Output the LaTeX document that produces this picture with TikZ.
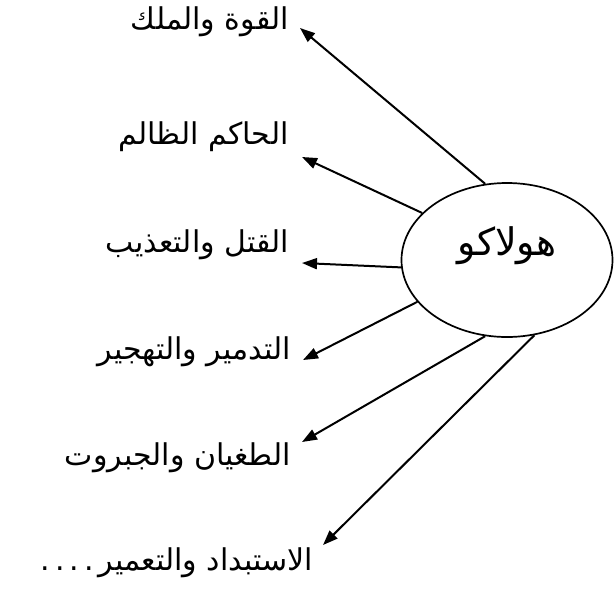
\documentclass[tikz,border=0pt]{standalone}
\usepackage{fontspec}
\usetikzlibrary{shapes.geometric,arrows.meta}
\TeXXeTstate=1
\newfontfamily\arabicfont[Script=Arabic]{DejaVu Sans}
\begin{document}
\begin{tikzpicture}[x=1pt,y=-1pt,
  lab/.style={anchor=east,inner sep=0pt,font=\arabicfont\fontsize{30}{36}\selectfont},
  arr/.style={line width=2pt,-{Triangle[length=15pt,width=11pt]}}]
\useasboundingbox (0,0) rectangle (614,590);
\node[draw,line width=1.7pt,ellipse,minimum width=211pt,minimum height=154pt,inner sep=0pt] (h) at (507,260) {};
\node[font=\arabicfont\fontsize{38}{44}\selectfont] (ht) at (507,246) {\beginR هولاكو\endR};
\node[lab] (l1) at (289,22) {\beginR القوة والملك\endR};
\node[lab] (l2) at (289,137) {\beginR الحاكم الظالم\endR};
\node[lab] (l3) at (289,245) {\beginR القتل والتعذيب\endR};
\node[lab] (l4) at (291,352) {\beginR التدمير والتهجير\endR};
\node[lab] (l5) at (291,458) {\beginR الطغيان والجبروت\endR};
\node[lab] (l6) at (313,563) {\beginR الاستبداد والتعمير\,.\,.\,.\,.\endR};
\coordinate (t1) at (300,28);
\coordinate (t2) at (302,157);
\coordinate (t3) at (302,263);
\coordinate (t4) at (303,360);
\coordinate (t5) at (302,442);
\coordinate (t6) at (323,545);
\draw[arr] (h.106) -- (t1);
\draw[arr] (h.151) -- (t2);
\draw[arr] (h.184) -- (t3);
\draw[arr] (h.205) -- (t4);
\draw[arr] (h.254) -- (t5);
\draw[arr] (h.290) -- (t6);
\end{tikzpicture}
\end{document}
